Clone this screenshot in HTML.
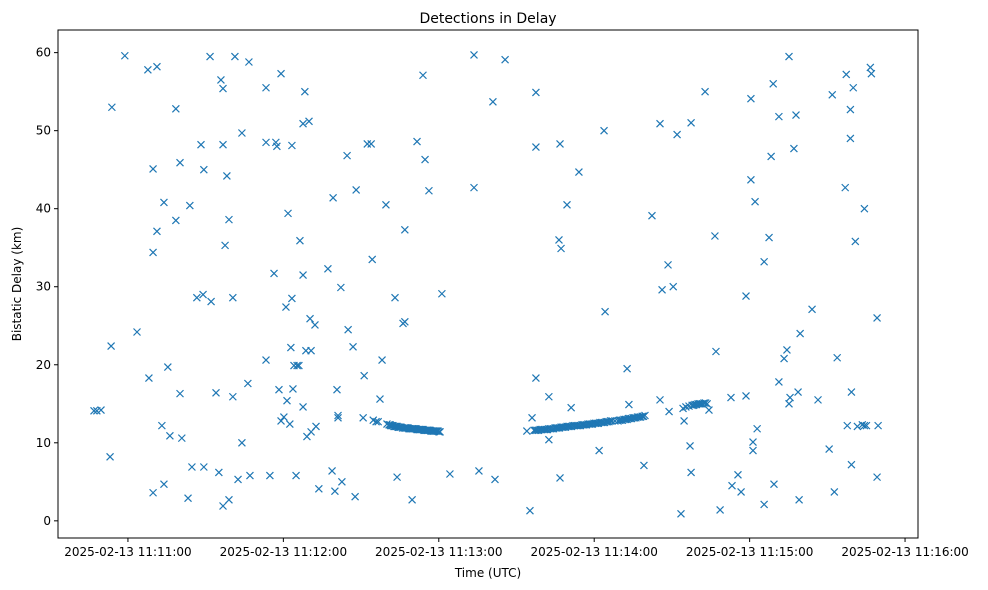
<!DOCTYPE html>
<html><head><meta charset="utf-8"><style>
body{margin:0;background:#fff;}
svg{display:block;font-family:"DejaVu Sans","Liberation Sans",sans-serif;}
</style></head><body>
<svg id="chart" width="988" height="590" xmlns="http://www.w3.org/2000/svg">
<rect width="988" height="590" fill="#fff"/>
<text x="488" y="23" font-size="14" text-anchor="middle">Detections in Delay</text>
<text x="488" y="577" font-size="12" text-anchor="middle">Time (UTC)</text>
<text transform="translate(21,284) rotate(-90)" font-size="12" text-anchor="middle">Bistatic Delay (km)</text>
<g id="ticks"></g>
<g id="marks"></g>
<rect x="58" y="30" width="860" height="508" fill="none" stroke="#000" stroke-width="1"/>
</svg>
<script>
// seconds after 11:10:00
const times = [46.9,48.0,49.6,53.1,53.5,53.8,58.8,63.5,67.7,68.1,69.7,69.7,69.7,71.2,71.2,73.1,73.9,73.9,75.4,76.2,78.5,78.5,80.1,80.1,80.8,83.2,83.9,84.7,86.6,88.2,89.0,89.3,89.3,91.7,92.1,94.0,95.1,95.9,96.7,96.7,96.7,97.5,98.2,99.0,99.0,100.5,100.5,101.3,102.5,104.0,104.0,106.3,106.7,107.1,113.3,113.3,113.3,114.8,116.4,117.1,117.5,118.3,119.1,119.1,120.2,121.0,121.8,121.4,122.5,122.9,123.3,123.3,123.7,124.1,124.9,125.3,126.0,126.4,127.6,127.6,127.6,128.3,128.7,129.1,129.9,130.3,130.7,130.7,132.2,132.6,133.7,137.2,138.8,139.2,139.9,140.7,141.1,141.1,142.2,142.6,144.6,145.0,146.9,147.7,148.1,150.8,151.2,152.4,153.9,154.3,154.7,155.8,156.6,157.3,158.1,159.6,160.0,
160.8,161.2,161.5,161.9,162.3,162.7,163.1,163.5,163.9,164.3,164.6,165.0,165.4,166.0,166.6,167.0,167.3,167.7,168.1,168.5,168.9,169.3,169.7,170.0,170.4,170.8,171.2,171.6,172.0,172.4,172.7,173.1,173.5,173.9,174.3,174.7,175.1,175.5,175.8,176.2,176.6,177.0,177.4,177.8,178.1,178.5,178.9,179.3,179.7,180.1,180.5,
163.1,163.9,166.2,166.9,166.9,169.7,171.6,173.9,174.7,176.2,181.2,184.3,193.6,193.6,195.5,200.9,201.7,205.6,215.2,214.0,216.0,217.5,217.5,217.5,
216.8,217.3,217.9,218.5,219.1,219.6,220.2,220.8,221.4,221.9,222.5,223.1,223.7,224.3,224.9,225.4,226.0,226.6,227.2,227.7,228.3,228.9,229.5,230.0,230.6,231.2,231.8,232.4,233.0,233.5,234.1,234.7,235.3,235.8,236.4,237.0,237.6,238.2,238.8,239.3,239.9,240.5,241.1,241.6,242.2,242.8,243.4,244.0,244.6,245.1,245.7,246.3,246.9,248.0,249.2,249.7,250.3,250.9,251.5,252.1,252.7,253.2,253.8,254.4,255.0,255.5,256.1,256.7,257.3,257.9,258.5,259.0,259.6,
222.5,222.5,226.4,227.2,226.8,226.8,229.5,231.1,234.1,241.9,243.8,244.2,252.7,253.4,259.2,262.3,265.4,265.4,266.2,268.5,268.9,270.5,272.0,273.5,274.3,274.7,277.0,277.4,277.4,
275.4,276.6,277.8,278.4,278.9,279.5,280.1,280.7,281.2,281.8,282.4,283.0,283.6,284.3,
282.8,286.6,287.0,288.6,292.8,293.2,295.5,296.7,298.6,298.6,300.5,300.5,301.3,301.3,302.1,302.9,305.6,305.6,307.5,308.3,309.1,309.4,311.3,311.3,313.3,314.4,315.2,315.2,315.6,317.1,317.9,318.7,319.1,319.5,324.1,326.4,330.7,331.9,332.7,333.8,336.9,337.3,337.7,338.9,338.9,339.3,339.3,340.0,340.8,341.6,343.5,344.3,344.3,345.1,346.6,347.0,349.2,349.6,349.2];
const delays = [14.1,14.1,14.2,8.2,22.4,53.0,59.6,24.2,57.8,18.3,3.6,45.1,34.4,58.2,37.1,12.2,4.7,40.8,19.7,10.9,38.5,52.8,45.9,16.3,10.6,2.9,40.4,6.9,28.6,48.2,29.0,6.9,45.0,59.5,28.1,16.4,6.2,56.5,55.4,48.2,1.9,35.3,44.2,38.6,2.7,28.6,15.9,59.5,5.3,49.7,10.0,17.6,58.8,5.8,55.5,20.6,48.5,5.8,31.7,48.5,48.0,16.8,57.3,12.8,13.3,27.4,39.4,15.4,12.4,22.2,48.1,28.5,16.9,19.9,5.8,19.9,19.9,35.9,31.5,14.6,50.9,55.0,21.8,10.8,51.2,25.9,21.8,11.4,25.1,12.1,4.1,32.3,6.4,41.4,3.8,16.8,13.2,13.5,29.9,5.0,46.8,24.5,22.3,3.1,42.4,13.2,18.6,48.3,48.3,33.5,12.9,12.7,12.7,15.6,20.6,40.5,12.4,
12.3,12.3,12.2,12.2,12.2,12.1,12.1,12.1,12.1,12.0,12.0,12.0,12.0,11.9,11.9,11.9,11.9,11.9,11.9,11.8,11.8,11.8,11.8,11.8,11.8,11.8,11.8,11.7,11.7,11.7,11.7,11.7,11.7,11.7,11.6,11.6,11.6,11.6,11.6,11.6,11.6,11.5,11.5,11.5,11.5,11.5,11.5,11.5,11.5,11.4,11.4,
28.6,5.6,25.3,25.5,37.3,2.7,48.6,57.1,46.3,42.3,29.1,6.0,59.7,42.7,6.4,53.7,5.3,59.1,1.3,11.5,13.2,54.9,47.9,18.3,
11.6,11.6,11.6,11.6,11.7,11.7,11.7,11.7,11.7,11.7,11.8,11.8,11.8,11.8,11.9,11.9,11.9,11.9,12.0,12.0,12.0,12.0,12.1,12.1,12.1,12.1,12.2,12.2,12.2,12.2,12.2,12.2,12.3,12.3,12.3,12.3,12.4,12.4,12.4,12.4,12.5,12.5,12.5,12.5,12.6,12.6,12.6,12.6,12.7,12.7,12.7,12.8,12.8,12.8,12.8,12.9,12.9,12.9,13.0,13.0,13.0,13.1,13.1,13.1,13.2,13.2,13.2,13.3,13.3,13.3,13.4,13.4,13.5,
10.4,15.9,36.0,34.9,5.5,48.3,40.5,14.5,44.7,9.0,50.0,26.8,19.5,14.9,7.1,39.1,50.9,15.5,29.6,32.8,14.0,30.0,49.5,0.9,14.4,12.8,9.6,6.2,51.0,
14.6,14.7,14.8,14.8,14.9,14.9,15.0,15.0,15.0,15.0,15.1,15.1,15.0,14.2,
55.0,36.5,21.7,1.4,15.8,4.5,5.9,3.7,28.8,16.0,54.1,43.7,10.1,9.0,40.9,11.8,2.1,33.2,36.3,46.7,56.0,4.7,51.8,17.8,20.8,21.9,59.5,15.0,15.8,47.7,52.0,16.5,2.7,24.0,27.1,15.5,9.2,54.6,3.7,20.9,42.7,57.2,12.2,49.0,52.7,7.2,16.5,55.5,35.8,12.1,12.3,12.2,40.0,12.2,58.1,57.3,26.0,12.2,5.6];
const xTickValues = [60,120,180,240,300,360];
const xTickLabels = ["2025-02-13 11:11:00","2025-02-13 11:12:00","2025-02-13 11:13:00","2025-02-13 11:14:00","2025-02-13 11:15:00","2025-02-13 11:16:00"];
const yTickValues = [0,10,20,30,40,50,60];

const X0=58,X1=918,Y0=538,Y1=30;
const xMin=33,xMax=365,yMin=-2.2,yMax=62.9;
function xs(v){return X0+(v-xMin)/(xMax-xMin)*(X1-X0);}
function ys(v){return Y0-(v-yMin)/(yMax-yMin)*(Y0-Y1);}
const NS="http://www.w3.org/2000/svg";
const tg=document.getElementById('ticks');
function mk(tag,attrs,parent){const e=document.createElementNS(NS,tag);for(const k in attrs)e.setAttribute(k,attrs[k]);parent.appendChild(e);return e;}
xTickValues.forEach((v,i)=>{
  const x=xs(v);
  const l=mk('line',{x1:x,x2:x,y1:Y0,y2:Y0+4,stroke:'#000'},tg);
  
  
  const t=mk('text',{x:x,y:Y0+18,'font-size':'12','text-anchor':'middle'},tg);
  t.textContent=xTickLabels[i];
  
  
});
yTickValues.forEach(v=>{
  const y=ys(v);
  const l=mk('line',{x1:X0-4,x2:X0,y1:y,y2:y,stroke:'#000'},tg);
  
  
  const t=mk('text',{x:X0-7,y:y+4,'font-size':'12','text-anchor':'end'},tg);
  t.textContent=String(v);
  
  
});
const mg=document.getElementById('marks');
const n=Math.min(times.length,delays.length);
for(let i=0;i<n;i++){
  const cx=xs(times[i]),cy=ys(delays[i]),r=3.5;
  const p=mk('path',{d:`M${cx-r},${cy-r}L${cx+r},${cy+r}M${cx-r},${cy+r}L${cx+r},${cy-r}`,stroke:'#1f77b4','stroke-width':'1.2',fill:'none'},mg);
  
  
}
</script>
</body></html>
